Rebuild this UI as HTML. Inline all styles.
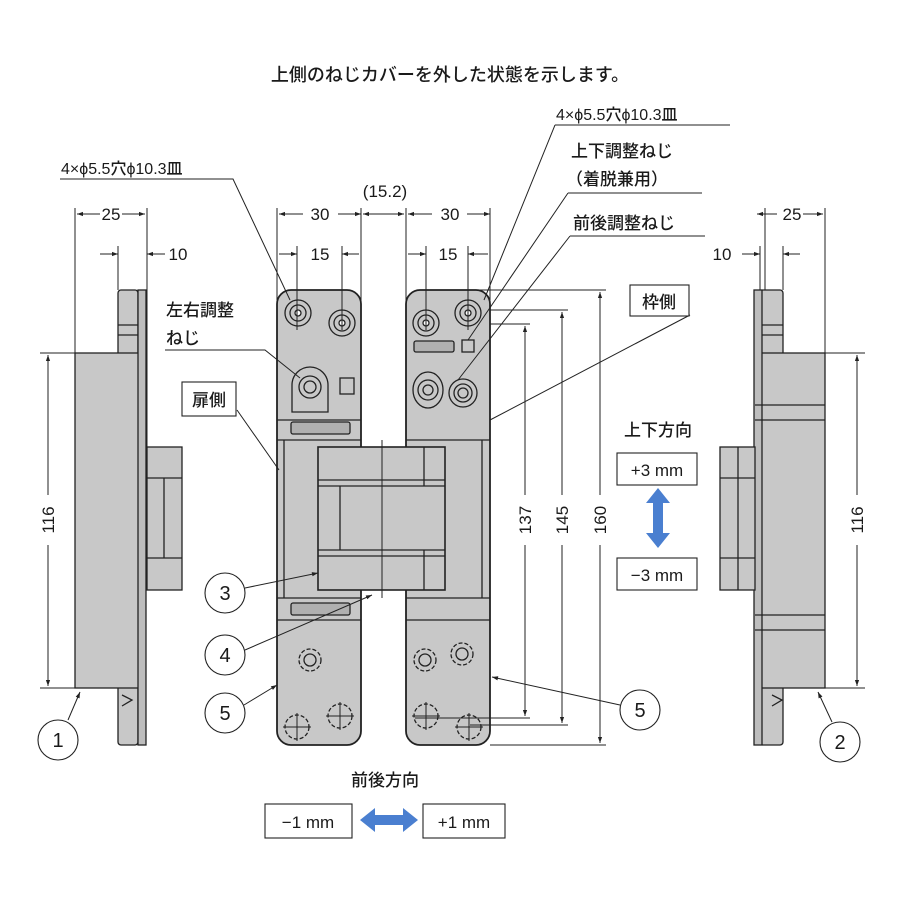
<!DOCTYPE html>
<html><head><meta charset="utf-8"><style>
html,body{margin:0;padding:0;background:#fff;}
svg{display:block;}
text{font-family:"Liberation Sans","Noto Sans CJK JP",sans-serif;fill:#1a1a1a;font-weight:500;}
</style></head><body>
<svg width="900" height="900" viewBox="0 0 900 900" xmlns="http://www.w3.org/2000/svg">
<defs>
<marker id="a" viewBox="0 0 10 10" refX="10" refY="5" markerWidth="8" markerHeight="6" orient="auto-start-reverse"><path d="M0,1.5L10,5L0,8.5z" fill="#222"/></marker>
</defs>
<rect width="900" height="900" fill="#fff"/>
<text x="450" y="81" font-size="18" text-anchor="middle">上側のねじカバーを外した状態を示します。</text>

<g stroke="#222" stroke-width="1.3">
<rect x="118" y="290" width="20" height="455" rx="3" fill="#c8c8c8"/>
<rect x="75" y="353" width="70" height="335" fill="#c8c8c8"/>
<rect x="138" y="290" width="8" height="455" fill="#bdbdbd"/>
<rect x="147" y="447" width="35" height="143" fill="#c8c8c8"/>
<line x1="147" y1="478" x2="182" y2="478"/><line x1="147" y1="558" x2="182" y2="558"/>
<line x1="164" y1="478" x2="164" y2="558"/>
<line x1="118" y1="325" x2="138" y2="325"/><line x1="118" y1="335" x2="138" y2="335"/>
<path d="M122,695 L132,700 L122,706" fill="none"/>
<rect x="760" y="290" width="23" height="455" rx="3" fill="#c8c8c8"/>
<rect x="755" y="353" width="70" height="335" fill="#c8c8c8"/>
<rect x="754" y="290" width="8" height="455" fill="#bdbdbd"/>
<line x1="755" y1="405" x2="825" y2="405"/><line x1="755" y1="420" x2="825" y2="420"/>
<line x1="755" y1="615" x2="825" y2="615"/><line x1="755" y1="630" x2="825" y2="630"/>
<rect x="720" y="447" width="35" height="143" fill="#c8c8c8"/>
<line x1="720" y1="478" x2="755" y2="478"/><line x1="720" y1="558" x2="755" y2="558"/>
<line x1="738" y1="447" x2="738" y2="590"/>
<line x1="762" y1="325" x2="783" y2="325"/><line x1="762" y1="335" x2="783" y2="335"/>
<path d="M772,695 L782,700 L772,706" fill="none"/>

<rect x="277" y="290" width="84" height="455" rx="14" fill="#c8c8c8" stroke-width="1.8"/>
<rect x="406" y="290" width="84" height="455" rx="14" fill="#c8c8c8" stroke-width="1.8"/>
<line x1="277" y1="420" x2="361" y2="420"/><line x1="277" y1="440" x2="361" y2="440"/>
<line x1="277" y1="598" x2="361" y2="598"/><line x1="277" y1="620" x2="361" y2="620"/>
<line x1="406" y1="440" x2="490" y2="440"/><line x1="406" y1="598" x2="490" y2="598"/><line x1="406" y1="620" x2="490" y2="620"/>
<line x1="284" y1="440" x2="284" y2="598"/><line x1="482" y1="440" x2="482" y2="598"/>
<rect x="291" y="422" width="59" height="12" rx="2" fill="#b0b0b0"/>
<rect x="291" y="603" width="59" height="12" rx="2" fill="#b0b0b0"/>
<rect x="414" y="341" width="40" height="11" rx="2" fill="#b0b0b0"/>
<rect x="462" y="340" width="12" height="12" fill="#c8c8c8"/>
<rect x="340" y="378" width="14" height="16" fill="#c8c8c8"/>
<rect x="318" y="447" width="127" height="143" fill="#c8c8c8" stroke-width="1.6"/>
<line x1="318" y1="480" x2="445" y2="480"/><line x1="318" y1="486" x2="445" y2="486"/>
<line x1="318" y1="550" x2="445" y2="550"/><line x1="318" y1="556" x2="445" y2="556"/>
<line x1="340" y1="486" x2="340" y2="550"/>
<line x1="382" y1="440" x2="382" y2="598" stroke-width="1"/>
<line x1="424" y1="447" x2="424" y2="486"/><line x1="424" y1="550" x2="424" y2="590"/>
<g fill="#c8c8c8">
<circle cx="298" cy="313" r="13"/><circle cx="298" cy="313" r="8"/><circle cx="298" cy="313" r="3" fill="#fff"/>
<circle cx="342" cy="323" r="13"/><circle cx="342" cy="323" r="8"/><circle cx="342" cy="323" r="3" fill="#fff"/>
<circle cx="426" cy="323" r="13"/><circle cx="426" cy="323" r="8"/><circle cx="426" cy="323" r="3" fill="#fff"/>
<circle cx="468" cy="313" r="13"/><circle cx="468" cy="313" r="8"/><circle cx="468" cy="313" r="3" fill="#fff"/>
<path d="M292,412 L292,385 A17,17 0 0 1 328,385 L328,412 Z"/>
<circle cx="310" cy="387" r="11"/><circle cx="310" cy="387" r="6"/>
<ellipse cx="428" cy="390" rx="15" ry="18"/><circle cx="428" cy="390" r="10"/><circle cx="428" cy="390" r="5"/>
<circle cx="463" cy="393" r="14"/><circle cx="463" cy="393" r="9"/><circle cx="463" cy="393" r="5"/>
</g>
<g fill="none" stroke-dasharray="4,2">
<circle cx="310" cy="660" r="11"/><circle cx="425" cy="660" r="11"/><circle cx="462" cy="654" r="11"/>
<circle cx="297" cy="727" r="12"/><circle cx="340" cy="716" r="12"/><circle cx="426" cy="716" r="12"/><circle cx="469" cy="727" r="12"/>
</g>
<g fill="none"><circle cx="310" cy="660" r="6"/><circle cx="425" cy="660" r="6"/><circle cx="462" cy="654" r="6"/></g>
<g stroke-width="1"><path d="M283,727h28M297,713v28M326,716h28M340,702v28M412,716h28M426,702v28M455,727h28M469,713v28"/></g>

<g stroke-width="1" fill="none">
<path d="M75,208V353M147,208V447M118,246V290M765,208V290M825,208V353M783,246V290M760,246V290"/>
<path d="M277,208V300M361,208V447M406,208V447M490,208V300M297,246V330M342,246V330M426,246V330M468,246V330"/>
<line x1="77" y1="214" x2="100" y2="214" marker-start="url(#a)"/><line x1="122" y1="214" x2="145" y2="214" marker-end="url(#a)"/>
<line x1="100" y1="254" x2="118" y2="254" marker-end="url(#a)"/><line x1="165" y1="254" x2="147" y2="254" marker-end="url(#a)"/>
<line x1="757" y1="214" x2="777" y2="214" marker-start="url(#a)"/><line x1="803" y1="214" x2="823" y2="214" marker-end="url(#a)"/>
<line x1="742" y1="254" x2="760" y2="254" marker-end="url(#a)"/><line x1="800" y1="254" x2="783" y2="254" marker-end="url(#a)"/>
<line x1="279" y1="214" x2="303" y2="214" marker-start="url(#a)"/><line x1="338" y1="214" x2="361" y2="214" marker-end="url(#a)"/>
<line x1="363" y1="214" x2="404" y2="214" marker-start="url(#a)" marker-end="url(#a)"/>
<line x1="408" y1="214" x2="432" y2="214" marker-start="url(#a)"/><line x1="467" y1="214" x2="490" y2="214" marker-end="url(#a)"/>
<line x1="279" y1="254" x2="297" y2="254" marker-end="url(#a)"/><line x1="359" y1="254" x2="342" y2="254" marker-end="url(#a)"/>
<line x1="408" y1="254" x2="426" y2="254" marker-end="url(#a)"/><line x1="488" y1="254" x2="468" y2="254" marker-end="url(#a)"/>
<path d="M40,353H75M40,688H75M825,353H865M825,688H865"/>
<line x1="48" y1="495" x2="48" y2="355" marker-end="url(#a)"/><line x1="48" y1="545" x2="48" y2="686" marker-end="url(#a)"/>
<line x1="857" y1="495" x2="857" y2="355" marker-end="url(#a)"/><line x1="857" y1="545" x2="857" y2="686" marker-end="url(#a)"/>
<path d="M490,324H530M415,718H530M490,310H568M470,725H568M470,290H606M490,745H606"/>
<line x1="525" y1="495" x2="525" y2="326" marker-end="url(#a)"/><line x1="525" y1="545" x2="525" y2="716" marker-end="url(#a)"/>
<line x1="562" y1="495" x2="562" y2="312" marker-end="url(#a)"/><line x1="562" y1="545" x2="562" y2="723" marker-end="url(#a)"/>
<line x1="600" y1="495" x2="600" y2="292" marker-end="url(#a)"/><line x1="600" y1="545" x2="600" y2="743" marker-end="url(#a)"/>
<path d="M60,179H233L290,300M555,125H730M555,125L484,300M568,193H702M568,193L468,340M570,236H705M570,236L458,380"/>
<path d="M165,350H265L300,378"/>
<line x1="237" y1="410" x2="279" y2="470"/>
<line x1="690" y1="315" x2="490" y2="420"/>
<line x1="245" y1="588" x2="318" y2="573" marker-end="url(#a)"/>
<line x1="245" y1="650" x2="372" y2="595" marker-end="url(#a)"/>
<line x1="244" y1="705" x2="277" y2="685" marker-end="url(#a)"/>
<line x1="620" y1="705" x2="492" y2="677" marker-end="url(#a)"/>
<line x1="68" y1="720" x2="80" y2="692" marker-end="url(#a)"/>
<line x1="832" y1="722" x2="818" y2="692" marker-end="url(#a)"/>
</g>
<g fill="#fff" stroke-width="1.1">
<circle cx="58" cy="740" r="20"/><circle cx="840" cy="742" r="20"/>
<circle cx="225" cy="593" r="20"/><circle cx="225" cy="655" r="20"/><circle cx="225" cy="713" r="20"/><circle cx="640" cy="710" r="20"/>
<rect x="182" y="382" width="54" height="34"/><rect x="630" y="285" width="59" height="31"/>
<rect x="617" y="453" width="80" height="32"/><rect x="617" y="558" width="80" height="32"/>
<rect x="265" y="804" width="87" height="34"/><rect x="423" y="804" width="82" height="34"/>
</g>
</g>
<path d="M658,488 L670,503 L663,503 L663,533 L670,533 L658,548 L646,533 L653,533 L653,503 L646,503 Z" fill="#4a7fd0"/>
<path d="M360,820 L375,808 L375,815 L403,815 L403,808 L418,820 L403,832 L403,825 L375,825 L375,832 Z" fill="#4a7fd0"/>

<g font-size="17">
<text x="111" y="220" text-anchor="middle">25</text>
<text x="178" y="260" text-anchor="middle">10</text>
<text x="792" y="220" text-anchor="middle">25</text>
<text x="722" y="260" text-anchor="middle">10</text>
<text x="320" y="220" text-anchor="middle">30</text>
<text x="320" y="260" text-anchor="middle">15</text>
<text x="385" y="197" text-anchor="middle">(15.2)</text>
<text x="450" y="220" text-anchor="middle">30</text>
<text x="448" y="260" text-anchor="middle">15</text>
<text transform="translate(54,520) rotate(-90)" text-anchor="middle">116</text>
<text transform="translate(863,520) rotate(-90)" text-anchor="middle">116</text>
<text transform="translate(531,520) rotate(-90)" text-anchor="middle">137</text>
<text transform="translate(568,520) rotate(-90)" text-anchor="middle">145</text>
<text transform="translate(606,520) rotate(-90)" text-anchor="middle">160</text>
<text x="58" y="747" text-anchor="middle" font-size="20">1</text>
<text x="840" y="749" text-anchor="middle" font-size="20">2</text>
<text x="225" y="600" text-anchor="middle" font-size="20">3</text>
<text x="225" y="662" text-anchor="middle" font-size="20">4</text>
<text x="225" y="720" text-anchor="middle" font-size="20">5</text>
<text x="640" y="717" text-anchor="middle" font-size="20">5</text>
<text x="61" y="174" font-size="16">4×ϕ5.5穴ϕ10.3皿</text>
<text x="556" y="120" font-size="16">4×ϕ5.5穴ϕ10.3皿</text>
<text x="571" y="157">上下調整ねじ</text>
<text x="566" y="185">（着脱兼用）</text>
<text x="573" y="229">前後調整ねじ</text>
<text x="166" y="316">左右調整</text>
<text x="166" y="344">ねじ</text>
<text x="209" y="406" text-anchor="middle">扉側</text>
<text x="659" y="308" text-anchor="middle">枠側</text>
<text x="658" y="436" text-anchor="middle">上下方向</text>
<text x="657" y="476" text-anchor="middle">+3 mm</text>
<text x="657" y="581" text-anchor="middle">−3 mm</text>
<text x="385" y="786" text-anchor="middle">前後方向</text>
<text x="308" y="828" text-anchor="middle">−1 mm</text>
<text x="464" y="828" text-anchor="middle">+1 mm</text>
</g>
</svg>
</body></html>
